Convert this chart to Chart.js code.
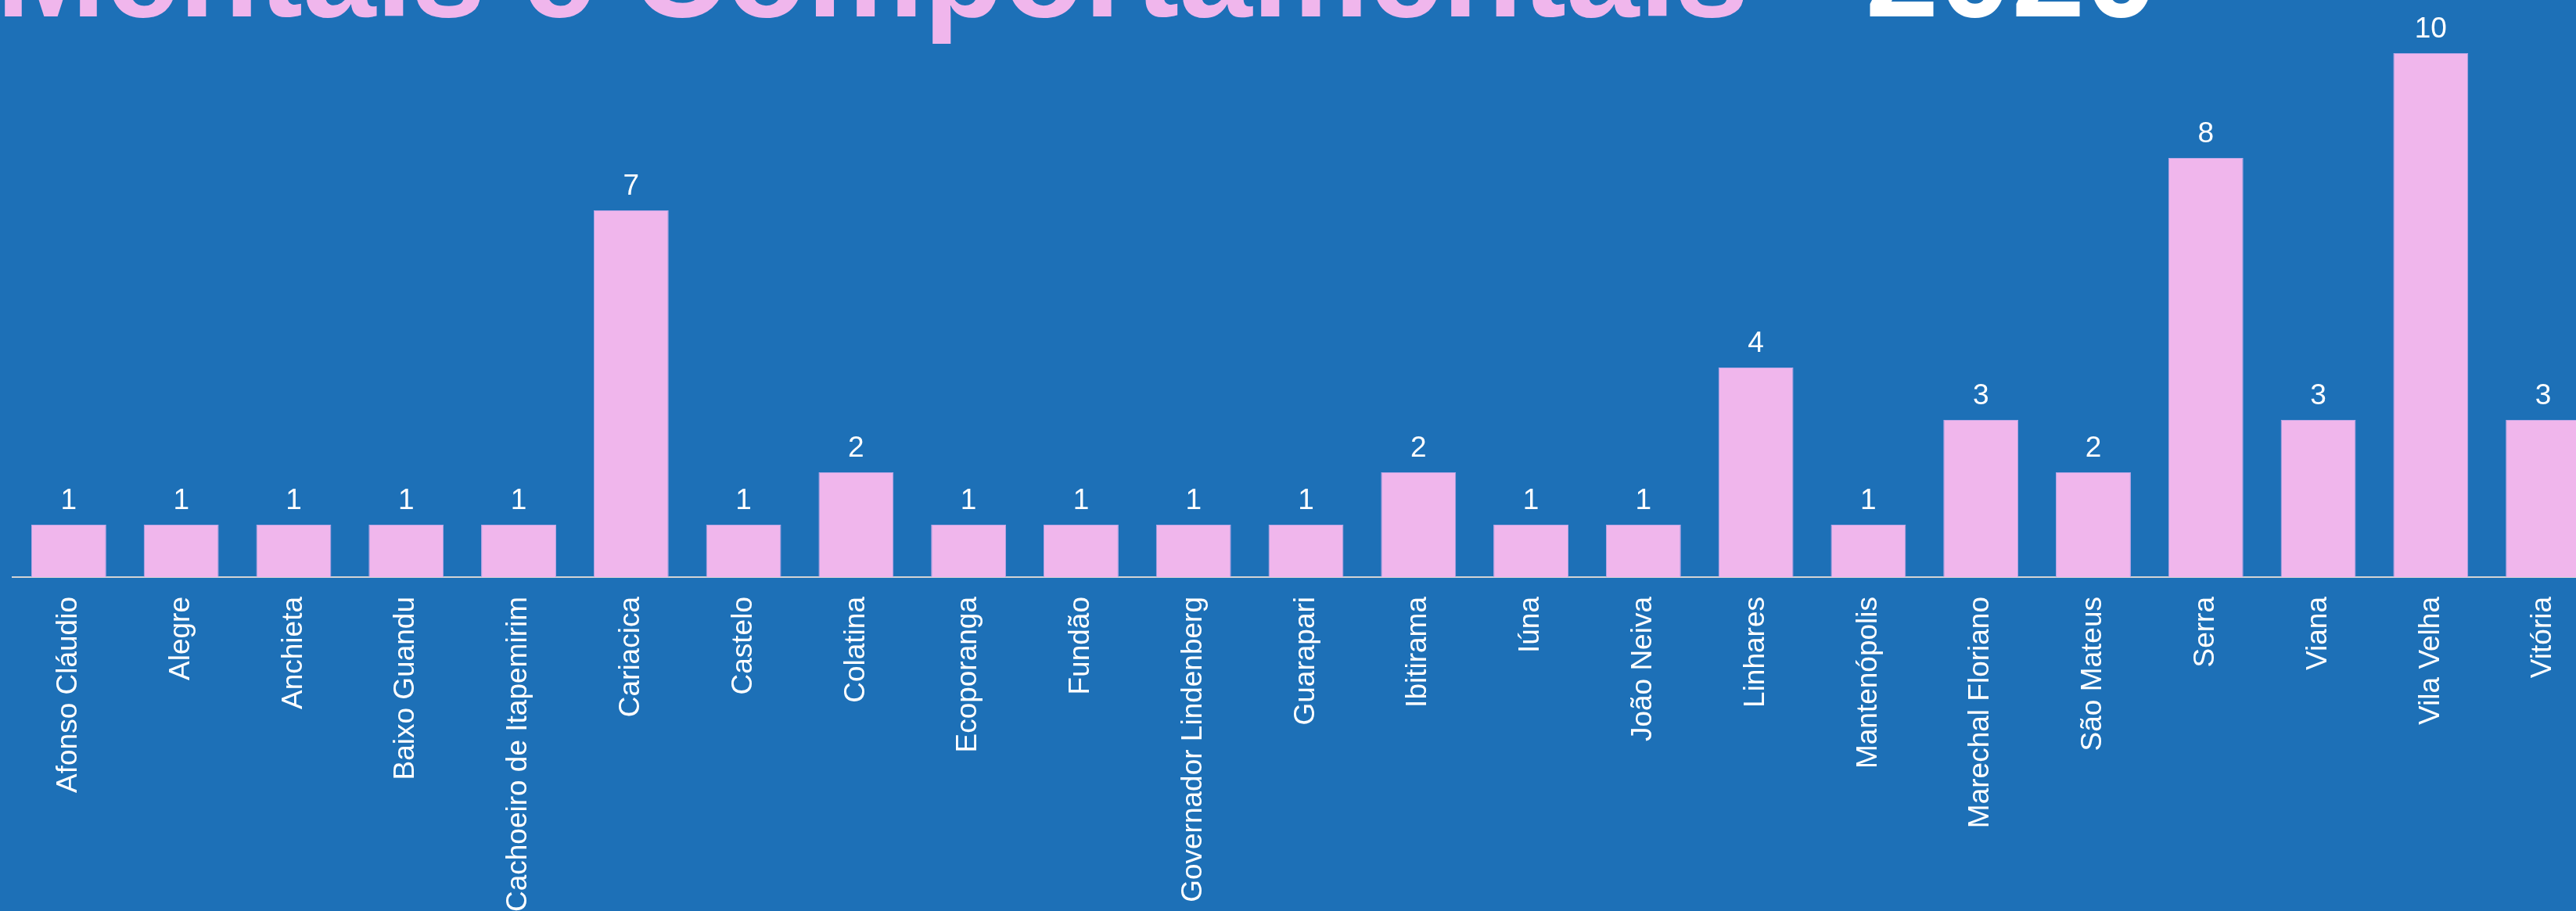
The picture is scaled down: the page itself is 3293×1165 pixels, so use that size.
<!DOCTYPE html>
<html>
<head>
<meta charset="utf-8">
<script src="https://cdn.jsdelivr.net/npm/chart.js@4"></script>
<style>
  html, body { margin: 0; padding: 0; background: #1d70b7; overflow: hidden; }
  #wrap { position: absolute; left: 0; top: 0; width: 3330px; height: 1165px; }
</style>
</head>
<body>
<div id="wrap"><canvas id="chart" width="3330" height="1165"></canvas></div>
<script>
// municípios e número de casos
const municipios = [
  'Afonso Cláudio', 'Alegre', 'Anchieta', 'Baixo Guandu', 'Cachoeiro de Itapemirim',
  'Cariacica', 'Castelo', 'Colatina', 'Ecoporanga', 'Fundão', 'Governador Lindenberg',
  'Guarapari', 'Ibitirama', 'Iúna', 'João Neiva', 'Linhares', 'Mantenópolis',
  'Marechal Floriano', 'São Mateus', 'Serra', 'Viana', 'Vila Velha', 'Vitória'
];
const casos = [1, 1, 1, 1, 1, 7, 1, 2, 1, 1, 1, 1, 2, 1, 1, 4, 1, 3, 2, 8, 3, 10, 3];

const tituloParte1 = 'Mentais e Comportamentais - ';
const tituloParte2 = '2020';

const fundo = '#1d70b7';
const rosa = '#f0b6ec';

// fundo azul + título (a linha de cima fica fora do quadro)
const fundoTitulo = {
  id: 'fundoTitulo',
  beforeDraw(chart) {
    const ctx = chart.ctx;
    ctx.save();
    ctx.fillStyle = fundo;
    ctx.fillRect(0, 0, chart.width, chart.height);
    ctx.restore();
  },
  afterDraw(chart) {
    const ctx = chart.ctx;
    ctx.save();
    ctx.font = 'bold 168px "Liberation Sans", Arial, sans-serif';
    ctx.textBaseline = 'alphabetic';
    ctx.textAlign = 'left';
    const x0 = -5;
    ctx.fillStyle = rosa;
    ctx.fillText(tituloParte1, x0, 21);
    const w = ctx.measureText(tituloParte1).width;
    ctx.fillStyle = '#ffffff';
    ctx.fillText(tituloParte2, x0 + w, 21);
    ctx.restore();
  }
};

// valores em cima das barras
const rotulosValor = {
  id: 'rotulosValor',
  afterDatasetsDraw(chart) {
    const ctx = chart.ctx;
    const meta = chart.getDatasetMeta(0);
    ctx.save();
    ctx.font = '37px "Liberation Sans", Arial, sans-serif';
    ctx.fillStyle = '#ffffff';
    ctx.textAlign = 'center';
    ctx.textBaseline = 'alphabetic';
    meta.data.forEach((bar, i) => {
      ctx.fillText(casos[i], bar.x, bar.y - 20);
    });
    ctx.restore();
  }
};

new Chart(document.getElementById('chart'), {
  type: 'bar',
  data: {
    labels: municipios,
    datasets: [{
      data: casos,
      backgroundColor: rosa,
      borderColor: '#b9a6e6',
      borderWidth: 1,
      barPercentage: 0.667,
      categoryPercentage: 1.0
    }]
  },
  options: {
    responsive: false,
    animation: false,
    layout: { padding: { top: 68, left: 16, right: 7, bottom: 0 } },
    plugins: {
      legend: { display: false },
      tooltip: { enabled: false },
      title: { display: false }
    },
    scales: {
      x: {
        grid: { display: false, drawTicks: false },
        border: { display: true, color: '#d4d4d4', width: 2 },
        ticks: {
          color: '#ffffff',
          font: { family: '"Liberation Sans", Arial, sans-serif', size: 37 },
          minRotation: 90,
          maxRotation: 90,
          autoSkip: false,
          padding: 25
        },
        afterFit(scale) { scale.height = 427; }
      },
      y: {
        display: false,
        min: 0,
        max: 10
      }
    }
  },
  plugins: [fundoTitulo, rotulosValor]
});
</script>
</body>
</html>
